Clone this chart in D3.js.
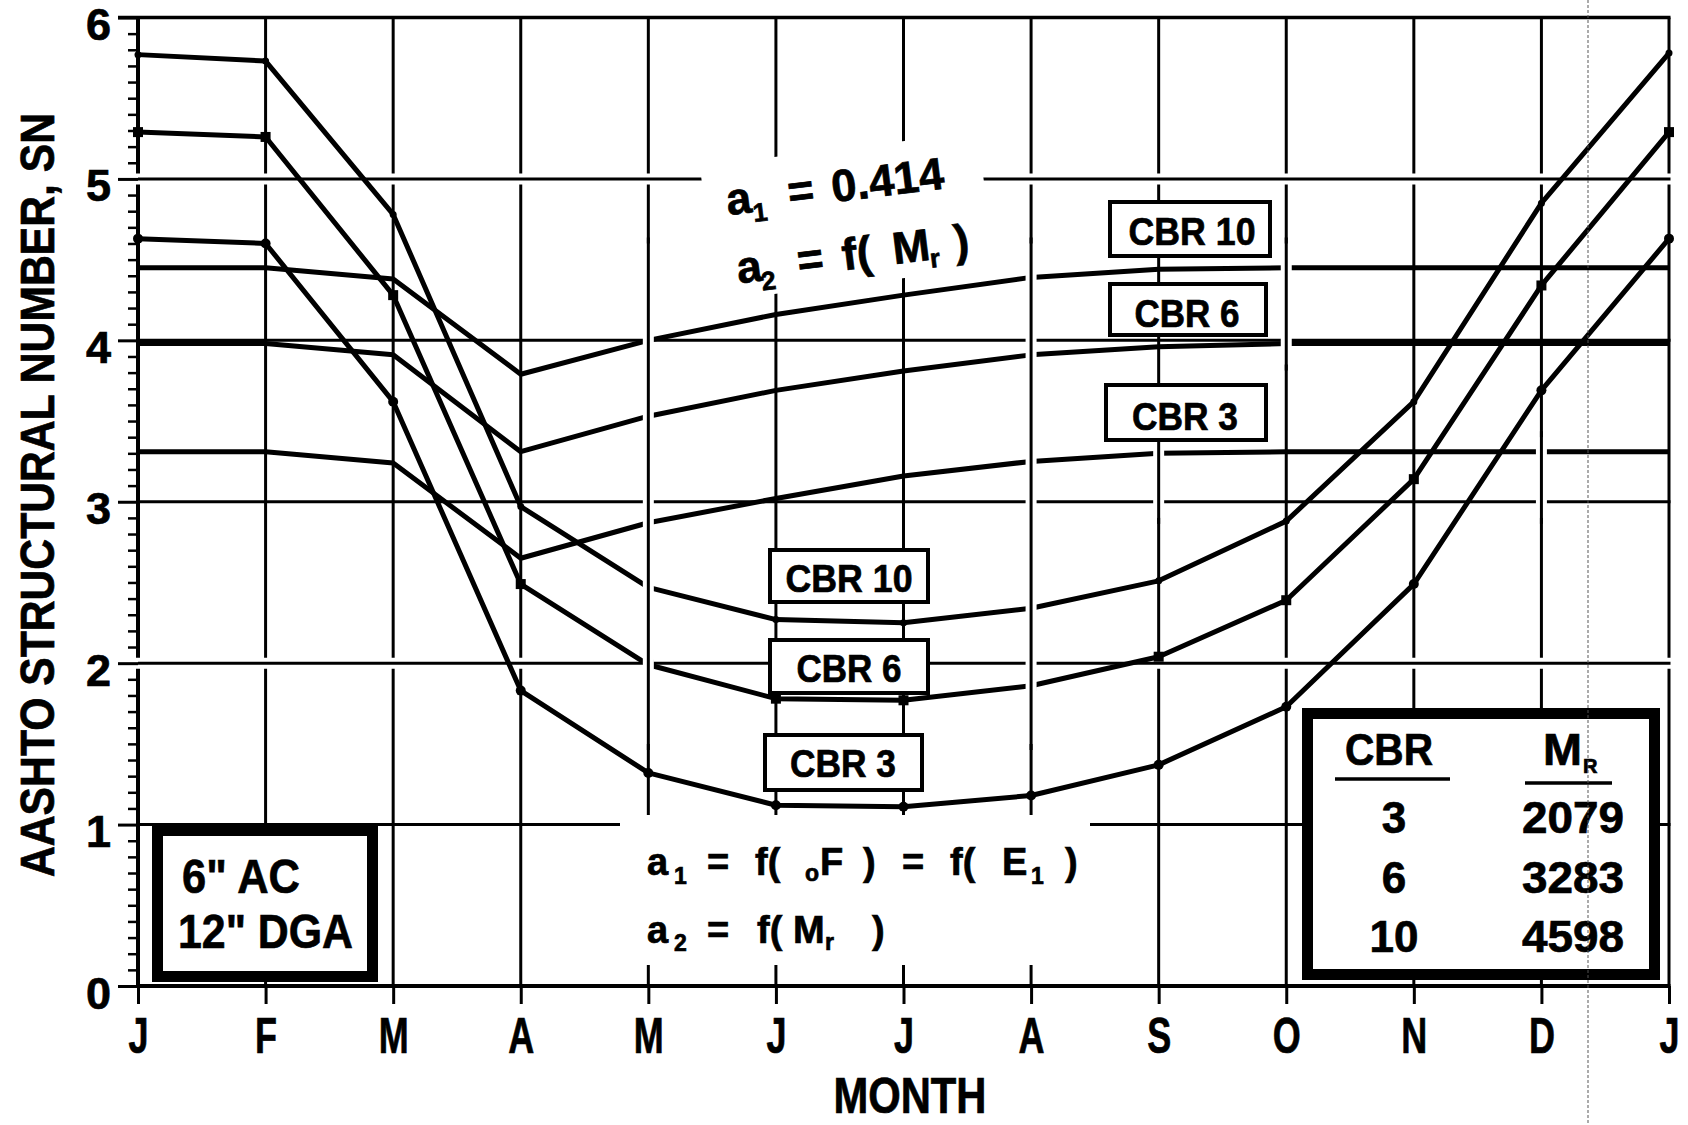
<!DOCTYPE html>
<html>
<head>
<meta charset="utf-8">
<script src="https://cdn.jsdelivr.net/npm/d3@7"></script>
<style>
  html, body { margin: 0; padding: 0; background: #fff; }
  svg { display: block; }
  text { font-family: "Liberation Sans", Arial, Helvetica, sans-serif; font-weight: bold; fill: #000;
         stroke: #000; stroke-width: 0.7; }
</style>
</head>
<body>
<svg id="chart" width="1688" height="1125"></svg>
<script>
// ---- data -------------------------------------------------------------
const months = ["J", "F", "M", "A", "M", "J", "J", "A", "S", "O", "N", "D", "J"];
const yTicks = [0, 1, 2, 3, 4, 5, 6];

// Structural number when a1 follows the asphalt temperature, a1 = f(°F) = f(E1)
const snTempCBR10 = [5.77, 5.73, 4.78, 2.97, 2.47, 2.27, 2.25, 2.34, 2.51, 2.88, 3.62, 4.85, 5.78];
const snTempCBR6  = [5.29, 5.26, 4.28, 2.49, 1.99, 1.78, 1.77, 1.86, 2.04, 2.39, 3.14, 4.34, 5.29];
const snTempCBR3  = [4.63, 4.60, 3.62, 1.83, 1.32, 1.12, 1.11, 1.18, 1.37, 1.73, 2.49, 3.69, 4.63];

// Structural number with a1 held at 0.414
const snConstCBR10 = [4.45, 4.45, 4.38, 3.79, 4.00, 4.16, 4.28, 4.39, 4.44, 4.45, 4.45, 4.45, 4.45];
const snConstCBR6  = [3.98, 3.98, 3.91, 3.31, 3.53, 3.69, 3.81, 3.91, 3.96, 3.98, 3.98, 3.98, 3.98];
const snConstCBR3  = [3.31, 3.31, 3.24, 2.65, 2.87, 3.02, 3.16, 3.25, 3.30, 3.31, 3.31, 3.31, 3.31];

// Subgrade resilient modulus for each CBR
const cbrValues = [3, 6, 10];
const mrValues  = [2079, 3283, 4598];

// ---- setup -----------------------------------------------------------
const svg = d3.select("#chart");
svg.append("rect").attr("width", 1688).attr("height", 1125).attr("fill", "#fff");

const x = d3.scaleLinear().domain([0, months.length - 1]).range([138, 1669]);
const y = d3.scaleLinear().domain([0, 6]).range([986, 17.5]);
const idx = d3.range(months.length);

// ---- grid ------------------------------------------------------------
const grid = svg.append("g").attr("stroke", "#000");

grid.selectAll("line.vgrid").data(idx).join("line")
  .attr("class", "vgrid")
  .attr("x1", i => x(i)).attr("x2", i => x(i))
  .attr("y1", y(6)).attr("y2", y(0))
  .attr("stroke-width", i => (i === 0 ? 4 : 3));

// white breaks where the 5 and 2 lines were laid over the verticals
grid.selectAll("line.hhalo").data([5, 2]).join("line")
  .attr("class", "hhalo")
  .attr("x1", 118).attr("x2", x(12) + 5)
  .attr("y1", d => y(d)).attr("y2", d => y(d))
  .attr("stroke", "#fff").attr("stroke-width", 11);

grid.selectAll("line.hgrid").data(yTicks).join("line")
  .attr("class", "hgrid")
  .attr("x1", d => (d === 6 ? 118 : x(0))).attr("x2", x(12) + 1.5)
  .attr("y1", d => y(d)).attr("y2", d => y(d))
  .attr("stroke-width", d => (d === 0 ? 4 : d === 6 ? 3.5 : 3));

// ---- axes ------------------------------------------------------------
const yAxis = d3.axisLeft(y).tickValues(yTicks).tickSize(20).tickPadding(7)
  .tickFormat(d3.format("d"));
const gy = svg.append("g").attr("transform", `translate(${x(0)},0)`).call(yAxis);
gy.select(".domain").remove();
gy.selectAll(".tick line").attr("stroke", "#000").attr("stroke-width", 3);
gy.selectAll(".tick text").attr("font-size", 45).attr("dy", "0.49em");

const minorVals = d3.range(1, 60).filter(v => v % 10 !== 0).map(v => v / 10);
const gyMinor = svg.append("g").attr("transform", `translate(${x(0)},0)`)
  .call(d3.axisLeft(y).tickValues(minorVals).tickSize(10).tickFormat(""));
gyMinor.select(".domain").remove();
gyMinor.selectAll(".tick line").attr("stroke", "#000").attr("stroke-width", 2.5);

const xAxis = d3.axisBottom(x).tickValues(idx).tickFormat(i => months[i])
  .tickSize(18).tickPadding(14);
const gx = svg.append("g").attr("transform", `translate(0,${y(0)})`).call(xAxis);
gx.select(".domain").remove();
gx.selectAll(".tick line").attr("stroke", "#000").attr("stroke-width", 3);
gx.selectAll(".tick text").attr("font-size", 50).attr("transform", "scale(0.72,1)");

// ---- white backgrounds behind the formula notes ---------------------
const upperNote = { cx: 835, cy: 200, angle: -7 };
svg.append("rect")
  .attr("transform", `translate(${upperNote.cx},${upperNote.cy}) rotate(${upperNote.angle})`)
  .attr("x", -130).attr("y", -50).attr("width", 280).attr("height", 136)
  .attr("fill", "#fff");
svg.append("rect").attr("x", 620).attr("y", 815).attr("width", 470).attr("height", 150)
  .attr("fill", "#fff");

// ---- curves ----------------------------------------------------------
const line = d3.line().x((d, i) => x(i)).y(d => y(d));
const series = [snConstCBR10, snConstCBR6, snConstCBR3, snTempCBR10, snTempCBR6, snTempCBR3];
svg.append("g").selectAll("path").data(series).join("path")
  .attr("d", line)
  .attr("fill", "none").attr("stroke", "#000")
  .attr("stroke-width", 5).attr("stroke-linejoin", "round");

const marks = svg.append("g").attr("fill", "#000");
marks.selectAll("circle.c10").data(snTempCBR10).join("circle").attr("class", "c10")
  .attr("cx", (d, i) => x(i)).attr("cy", d => y(d)).attr("r", 3.5);
marks.selectAll("circle.c3").data(snTempCBR3).join("circle").attr("class", "c3")
  .attr("cx", (d, i) => x(i)).attr("cy", d => y(d)).attr("r", 5);
marks.selectAll("rect.c6").data(snTempCBR6).join("rect").attr("class", "c6")
  .attr("x", (d, i) => x(i) - 5).attr("y", d => y(d) - 5).attr("width", 10).attr("height", 10);

// white breaks beside some month lines, then the month line itself again
const breaks = [
  { m: 4, from: 1.5, to: 4.6 }, { m: 7, from: 1.5, to: 4.6 },
  { m: 8, from: 2.9, to: 3.4 }, { m: 9, from: 3.85, to: 4.6 },
  { m: 11, from: 2.9, to: 3.4 }
];
const brk = svg.append("g");
brk.selectAll("line.bw").data(breaks).join("line").attr("class", "bw")
  .attr("x1", d => x(d.m)).attr("x2", d => x(d.m))
  .attr("y1", d => y(d.to)).attr("y2", d => y(d.from))
  .attr("stroke", "#fff").attr("stroke-width", 11);
brk.selectAll("line.bk").data(breaks).join("line").attr("class", "bk")
  .attr("x1", d => x(d.m)).attr("x2", d => x(d.m))
  .attr("y1", d => y(d.to) - 6).attr("y2", d => y(d.from) + 6)
  .attr("stroke", "#000").attr("stroke-width", 3);

// ---- curve labels ----------------------------------------------------
const curveLabels = [
  { t: "CBR 10", box: [1108, 200, 1272, 258], cx: 1192, base: 245, w: 127 },
  { t: "CBR 6",  box: [1108, 282, 1268, 337], cx: 1187, base: 327, w: 105 },
  { t: "CBR 3",  box: [1104, 383, 1268, 442], cx: 1185, base: 430, w: 106 },
  { t: "CBR 10", box: [768, 548, 930, 604], cx: 849, base: 592, w: 127 },
  { t: "CBR 6",  box: [768, 638, 930, 695], cx: 849, base: 682, w: 105 },
  { t: "CBR 3",  box: [763, 733, 924, 792], cx: 843, base: 777, w: 106 }
];
const lab = svg.append("g");
lab.selectAll("rect").data(curveLabels).join("rect")
  .attr("x", d => d.box[0] + 2).attr("y", d => d.box[1] + 2)
  .attr("width", d => d.box[2] - d.box[0] - 4).attr("height", d => d.box[3] - d.box[1] - 4)
  .attr("fill", "#fff").attr("stroke", "#000").attr("stroke-width", 4);
lab.selectAll("text").data(curveLabels).join("text")
  .attr("x", d => d.cx).attr("y", d => d.base)
  .attr("text-anchor", "middle").attr("font-size", 38)
  .attr("textLength", d => d.w).attr("lengthAdjust", "spacingAndGlyphs")
  .text(d => d.t);

// ---- formula notes ---------------------------------------------------
function drawTokens(g, tokens, size, subSize) {
  tokens.forEach(k => {
    const t = g.append("text").attr("x", k.x).attr("y", k.y)
      .attr("font-size", k.sub ? subSize : size).text(k.t);
    if (k.w) t.attr("textLength", k.w).attr("lengthAdjust", "spacingAndGlyphs");
  });
}
const gUp = svg.append("g")
  .attr("transform", `translate(${upperNote.cx},${upperNote.cy}) rotate(${upperNote.angle})`);
drawTokens(gUp, [
  { t: "a", x: -108, y: 2 }, { t: "1", x: -83, y: 12, sub: true },
  { t: "=", x: -46, y: 2 }, { t: "0.414", x: -2, y: 2, w: 113 },
  { t: "a", x: -106, y: 71 }, { t: "2", x: -83, y: 81, sub: true },
  { t: "=", x: -45, y: 71 }, { t: "f(", x: 0, y: 71 }, { t: "M", x: 51, y: 71 },
  { t: "r", x: 87, y: 79, sub: true }, { t: ")", x: 113, y: 71 }
], 45, 26);

const gLow = svg.append("g");
drawTokens(gLow, [
  { t: "a", x: 647, y: 875 }, { t: "1", x: 674, y: 884, sub: true },
  { t: "=", x: 707, y: 875 }, { t: "f(", x: 755, y: 875 },
  { t: "o", x: 805, y: 881, sub: true }, { t: "F", x: 820, y: 875 },
  { t: ")", x: 863, y: 875 }, { t: "=", x: 902, y: 875 },
  { t: "f(", x: 950, y: 875 }, { t: "E", x: 1002, y: 875 },
  { t: "1", x: 1031, y: 884, sub: true }, { t: ")", x: 1065, y: 875 },
  { t: "a", x: 647, y: 943 }, { t: "2", x: 674, y: 951, sub: true },
  { t: "=", x: 707, y: 943 }, { t: "f(", x: 757, y: 943 },
  { t: "M", x: 793, y: 943 }, { t: "r", x: 825, y: 950, sub: true },
  { t: ")", x: 872, y: 943 }
], 38, 23);

// ---- pavement section box -------------------------------------------
const sec = svg.append("g");
sec.append("rect").attr("x", 157.5).attr("y", 830.5).attr("width", 215).attr("height", 146)
  .attr("fill", "#fff").attr("stroke", "#000").attr("stroke-width", 11);
sec.append("text").attr("x", 182).attr("y", 893).attr("font-size", 49)
  .attr("textLength", 118).attr("lengthAdjust", "spacingAndGlyphs").text('6" AC');
sec.append("text").attr("x", 178).attr("y", 948).attr("font-size", 49)
  .attr("textLength", 175).attr("lengthAdjust", "spacingAndGlyphs").text('12" DGA');

// ---- CBR / MR table --------------------------------------------------
const tbl = svg.append("g");
tbl.append("rect").attr("x", 1307.5).attr("y", 713.5).attr("width", 347).attr("height", 261)
  .attr("fill", "#fff").attr("stroke", "#000").attr("stroke-width", 11);
tbl.append("text").attr("x", 1389).attr("y", 765).attr("text-anchor", "middle")
  .attr("font-size", 44).attr("textLength", 88).attr("lengthAdjust", "spacingAndGlyphs").text("CBR");
tbl.append("line").attr("x1", 1335).attr("x2", 1450).attr("y1", 779).attr("y2", 779)
  .attr("stroke", "#000").attr("stroke-width", 3.5);
tbl.append("text").attr("x", 1543).attr("y", 765).attr("font-size", 44)
  .attr("textLength", 39).attr("lengthAdjust", "spacingAndGlyphs").text("M");
tbl.append("text").attr("x", 1583).attr("y", 773).attr("font-size", 20).text("R");
tbl.append("line").attr("x1", 1525).attr("x2", 1612).attr("y1", 783).attr("y2", 783)
  .attr("stroke", "#000").attr("stroke-width", 3.5);
const rowBase = [833, 893, 952];
tbl.selectAll("text.cbr").data(cbrValues).join("text").attr("class", "cbr")
  .attr("x", 1394).attr("y", (d, i) => rowBase[i]).attr("text-anchor", "middle")
  .attr("font-size", 44).text(d => d);
tbl.selectAll("text.mr").data(mrValues).join("text").attr("class", "mr")
  .attr("x", 1573).attr("y", (d, i) => rowBase[i]).attr("text-anchor", "middle")
  .attr("font-size", 44).attr("textLength", 102).attr("lengthAdjust", "spacingAndGlyphs")
  .text(d => d);

// ---- axis titles -----------------------------------------------------
svg.append("text").attr("transform", "translate(54,495) rotate(-90)")
  .attr("text-anchor", "middle").attr("font-size", 49)
  .attr("textLength", 764).attr("lengthAdjust", "spacingAndGlyphs")
  .text("AASHTO STRUCTURAL NUMBER, SN");
svg.append("text").attr("x", 910).attr("y", 1113).attr("text-anchor", "middle")
  .attr("font-size", 50).attr("textLength", 153).attr("lengthAdjust", "spacingAndGlyphs")
  .text("MONTH");

// faint dotted crease running down the sheet
svg.append("line").attr("x1", 1588).attr("x2", 1588).attr("y1", 0).attr("y2", 1125)
  .attr("stroke", "#555").attr("stroke-width", 1.3).attr("stroke-dasharray", "3,2")
  .attr("opacity", 0.75);
</script>
</body>
</html>
